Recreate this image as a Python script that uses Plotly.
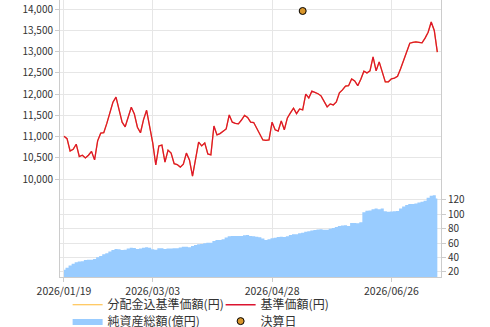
import pandas as pd
import plotly.graph_objects as go

# Business days (Japan) 2026/01/19 - 2026/07/17
holidays = ["2026-02-11", "2026-02-23", "2026-03-20", "2026-04-29",
            "2026-05-04", "2026-05-05", "2026-05-06"]
dates = [d.strftime("%Y/%m/%d") for d in pd.bdate_range("2026-01-19", "2026-07-17")
         if d.strftime("%Y-%m-%d") not in holidays]

nav = [11010, 10950, 10660, 10700, 10820, 10530, 10560, 10495, 10560, 10650,
       10450, 10900, 11080, 11090, 11310, 11550, 11810, 11930, 11630, 11340,
       11230, 11450, 11690, 11530, 11220, 11090, 11400, 11620, 11210, 10850,
       10330, 10780, 10800, 10400, 10680, 10610, 10360, 10340, 10280, 10350,
       10610, 10450, 10070, 10500, 10870, 10780, 10850, 10590, 10570, 11250,
       11040, 11070, 11120, 11180, 11510, 11340, 11310, 11300, 11390, 11500,
       11450, 11340, 11330, 11200, 11040, 10920, 10910, 10920, 11340, 11160,
       11130, 11370, 11160, 11440, 11560, 11670, 11540, 11650, 11630, 12000,
       11910, 12070, 12040, 12010, 11960, 11820, 11700, 11770, 11745, 11815,
       12030, 12100, 12190, 12200, 12360, 12310, 12200, 12350, 12540, 12500,
       12550, 12880, 12550, 12760, 12520, 12290, 12290, 12360, 12380, 12420,
       12600, 12800, 13000, 13200, 13220, 13230, 13220, 13210, 13320, 13460,
       13700, 13500, 12990]

nav_div = list(nav)  # 分配金込基準価額 (same as NAV, hidden beneath)

assets = [23, 26, 29, 31.5, 33.5, 34.5, 35, 36.5, 37, 37,
          38, 40.5, 42, 44.5, 46, 48.5, 50.5, 52, 51.5, 50.5,
          51, 52.5, 53.5, 53.3, 52, 52.5, 53.5, 54.5, 53.5, 51.5,
          51, 53, 53, 52, 52.5, 52.5, 53, 53, 54, 55,
          55, 54.5, 56, 57.5, 58.5, 59, 60, 60.7, 60.7, 63,
          64.4, 64.4, 65.5, 68, 69.5, 70, 70, 70, 70, 71,
          71.4, 70, 69.5, 69, 68.2, 66.5, 64.5, 65.5, 66.8, 67.5,
          68.5, 69, 68.5, 69.5, 71.5, 72.5, 72.5, 73.7, 74.5, 75.8,
          76.5, 77.5, 78.3, 79, 79.5, 78.5, 78.5, 80, 81, 82.5,
          84, 84.5, 84.8, 84, 88, 88, 87.5, 89, 103, 105,
          105.5, 107, 108, 107, 108, 104.5, 103.5, 104, 104.5, 104.7,
          108, 111, 113, 114.4, 114.5, 115, 116.5, 117.5, 119, 123,
          126, 126.5, 122]

settle_dates = ["2026/05/18"]
settle_vals = [13960]

x_ticks = ["2026/01/19", "2026/03/03", "2026/04/28", "2026/06/26"]
left_ticks = [10000, 10500, 11000, 11500, 12000, 12500, 13000, 13500, 14000]
right_ticks = [20, 40, 60, 80, 100, 120]

FONT = "Noto Sans CJK JP, Noto Sans, sans-serif"

fig = go.Figure()
fig.add_trace(go.Scatter(
    x=dates, y=assets, name="純資産総額(億円)", yaxis="y2", legend="legend2",
    mode="lines", line=dict(color="#99CCFF", width=0, shape="hvh"),
    fill="tozeroy", fillcolor="#99CCFF", legendrank=1, hoverinfo="skip"))
fig.add_trace(go.Scatter(
    x=dates, y=nav_div, name="分配金込基準価額(円)", mode="lines", legend="legend",
    line=dict(color="#FFB833", width=1.2), legendrank=1, hoverinfo="skip"))
fig.add_trace(go.Scatter(
    x=dates, y=nav, name="基準価額(円)", mode="lines", legend="legend",
    line=dict(color="#DC1430", width=1.3), legendrank=2, hoverinfo="skip"))
fig.add_trace(go.Scatter(
    x=settle_dates, y=settle_vals, name="決算日", mode="markers", legend="legend2",
    marker=dict(color="#D9962B", size=7, line=dict(color="#000000", width=1)),
    legendrank=2, hoverinfo="skip"))

legend_common = dict(orientation="h", x=0.02, xanchor="left",
                     yref="container", yanchor="middle",
                     entrywidth=108, entrywidthmode="pixels",
                     font=dict(size=12, color="#333333"), itemwidth=30,
                     bgcolor="rgba(0,0,0,0)", tracegroupgap=0)

fig.update_layout(
    width=490, height=327,
    margin=dict(l=60, r=49, t=0, b=50, autoexpand=False),
    paper_bgcolor="white", plot_bgcolor="white",
    font=dict(family=FONT, size=11, color="#333333"),
    showlegend=True,
    legend=dict(legend_common, y=0.068),
    legend2=dict(legend_common, y=0.018),
    xaxis=dict(type="category", range=[-1.3, 123.2], automargin=False,
               tickmode="array", tickvals=x_ticks, ticktext=x_ticks,
               showgrid=True, gridcolor="#E6E6E6", gridwidth=1,
               showline=True, linecolor="#CCCCCC", linewidth=1, mirror=True,
               ticks="outside", ticklen=4, tickcolor="#CCCCCC",
               tickfont=dict(size=10.5, color="#333333"), zeroline=False),
    yaxis=dict(range=[7690, 14219], tickmode="array", tickvals=left_ticks,
               automargin=False,
               tickformat=",d", showgrid=True, gridcolor="#E6E6E6",
               showline=True, linecolor="#CCCCCC", linewidth=1, mirror=True,
               ticks="outside", ticklen=4, tickcolor="#CCCCCC",
               tickfont=dict(size=10, color="#333333"), zeroline=False),
    yaxis2=dict(range=[13, 397.8], overlaying="y", side="right",
                tickmode="array", tickvals=right_ticks, automargin=False,
                showgrid=True, gridcolor="#E6E6E6",
                showline=False, ticks="outside", ticklen=4, tickcolor="#CCCCCC",
                tickfont=dict(size=10, color="#333333"), zeroline=False),
)

fig.write_html("out.html")
